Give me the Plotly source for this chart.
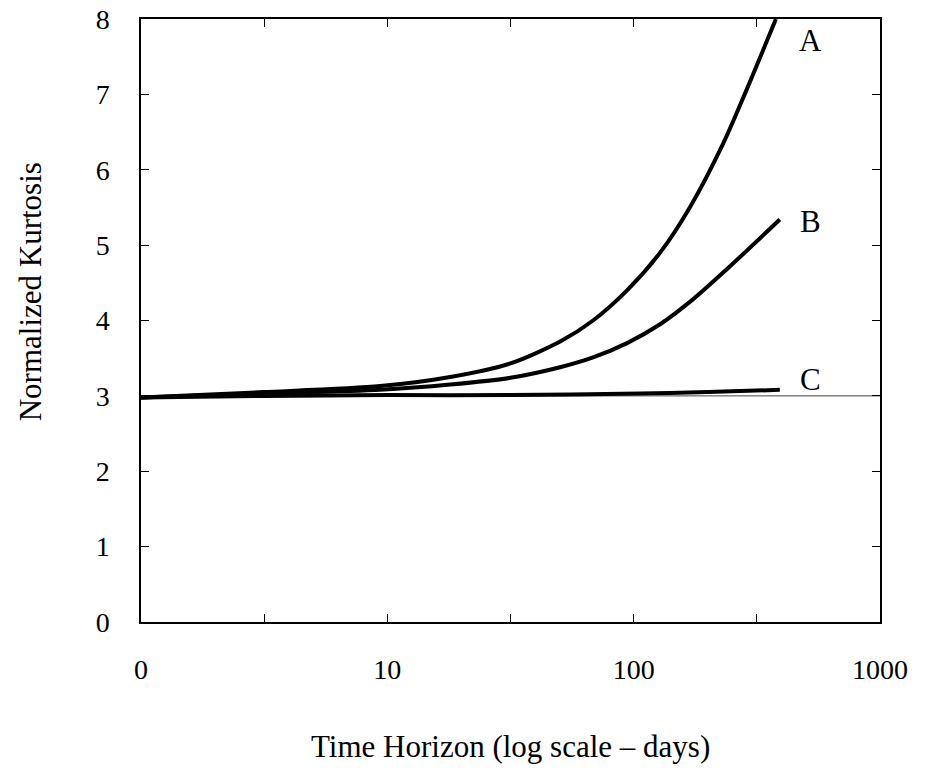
import math
import plotly.graph_objects as go

# Time horizon (days) and normalized kurtosis
days_A = [1, 3.13, 9.36, 18, 31.6, 50.3, 68.4, 94, 128, 169, 231, 289, 378]
kurt_A = [2.98, 3.05, 3.13, 3.25, 3.43, 3.72, 4.0, 4.4, 4.9, 5.5, 6.35, 7.08, 8.0]

days_B = [1, 3.13, 9.36, 18, 31.6, 50.3, 68.4, 94, 128, 174, 237, 392]
kurt_B = [2.98, 3.03, 3.08, 3.15, 3.24, 3.38, 3.51, 3.70, 3.95, 4.28, 4.67, 5.34]

days_C = [1, 3.16, 10, 31.6, 106, 200, 392]
kurt_C = [2.98, 3.0, 3.01, 3.01, 3.03, 3.05, 3.08]

curve_names = ["A", "B", "C"]
label_x = [520, 520, 520]
label_y = [7.72, 5.31, 3.22]

x_tickvals = [1, 3.1623, 10, 31.623, 100, 316.23, 1000]
x_ticktext = ["0", "", "10", "", "100", "", "1000"]
y_tickvals = [0, 1, 2, 3, 4, 5, 6, 7, 8]

FONT = "Liberation Serif"

fig = go.Figure()
for xs, ys, nm in [(days_A, kurt_A, "A"), (days_B, kurt_B, "B"), (days_C, kurt_C, "C")]:
    fig.add_trace(go.Scatter(x=xs, y=ys, mode="lines", name=nm,
                             line=dict(color="black", width=4, shape="spline", smoothing=0.8),
                             showlegend=False))

# reference line at normal kurtosis = 3
fig.add_shape(type="line", xref="paper", x0=0, x1=1, yref="y", y0=3, y1=3,
              line=dict(color="#444444", width=1), layer="below")

for nm, lx, ly in zip(curve_names, label_x, label_y):
    fig.add_annotation(x=math.log10(lx), y=ly, xref="x", yref="y", text=nm, showarrow=False,
                       font=dict(family=FONT, size=31, color="black"),
                       xanchor="center", yanchor="middle")

fig.add_annotation(text="Normalized Kurtosis", xref="paper", yref="paper",
                   x=-0.150, y=0.547, textangle=-90, showarrow=False,
                   font=dict(family=FONT, size=31, color="black"),
                   xanchor="center", yanchor="middle")
fig.add_annotation(text="Time Horizon (log scale \u2013 days)", xref="paper", yref="paper",
                   x=0.5, y=-0.207, showarrow=False,
                   font=dict(family=FONT, size=31, color="black"),
                   xanchor="center", yanchor="middle")

fig.update_xaxes(type="log", range=[0, 3], tickmode="array", tickvals=x_tickvals,
                 ticktext=x_ticktext, ticks="inside", ticklen=8, tickwidth=1,
                 tickcolor="black", showline=True, linecolor="black", linewidth=1.5,
                 mirror="allticks", showgrid=False, zeroline=False, automargin=False,
                 ticklabeloverflow="allow",
                 tickfont=dict(family=FONT, size=28, color="black"),
                 ticklabelstandoff=22)
fig.update_yaxes(range=[0, 8], tickmode="array", tickvals=y_tickvals,
                 ticks="inside", ticklen=8, tickwidth=1, tickcolor="black",
                 showline=True, linecolor="black", linewidth=1.5,
                 mirror="allticks", showgrid=False, zeroline=False, automargin=False,
                 ticklabeloverflow="allow",
                 tickfont=dict(family=FONT, size=28, color="black"),
                 ticklabelstandoff=24)

fig.update_layout(width=929, height=764, plot_bgcolor="white", paper_bgcolor="white",
                  margin=dict(l=133, r=57, t=11, b=150))

fig.write_html("out.html")
